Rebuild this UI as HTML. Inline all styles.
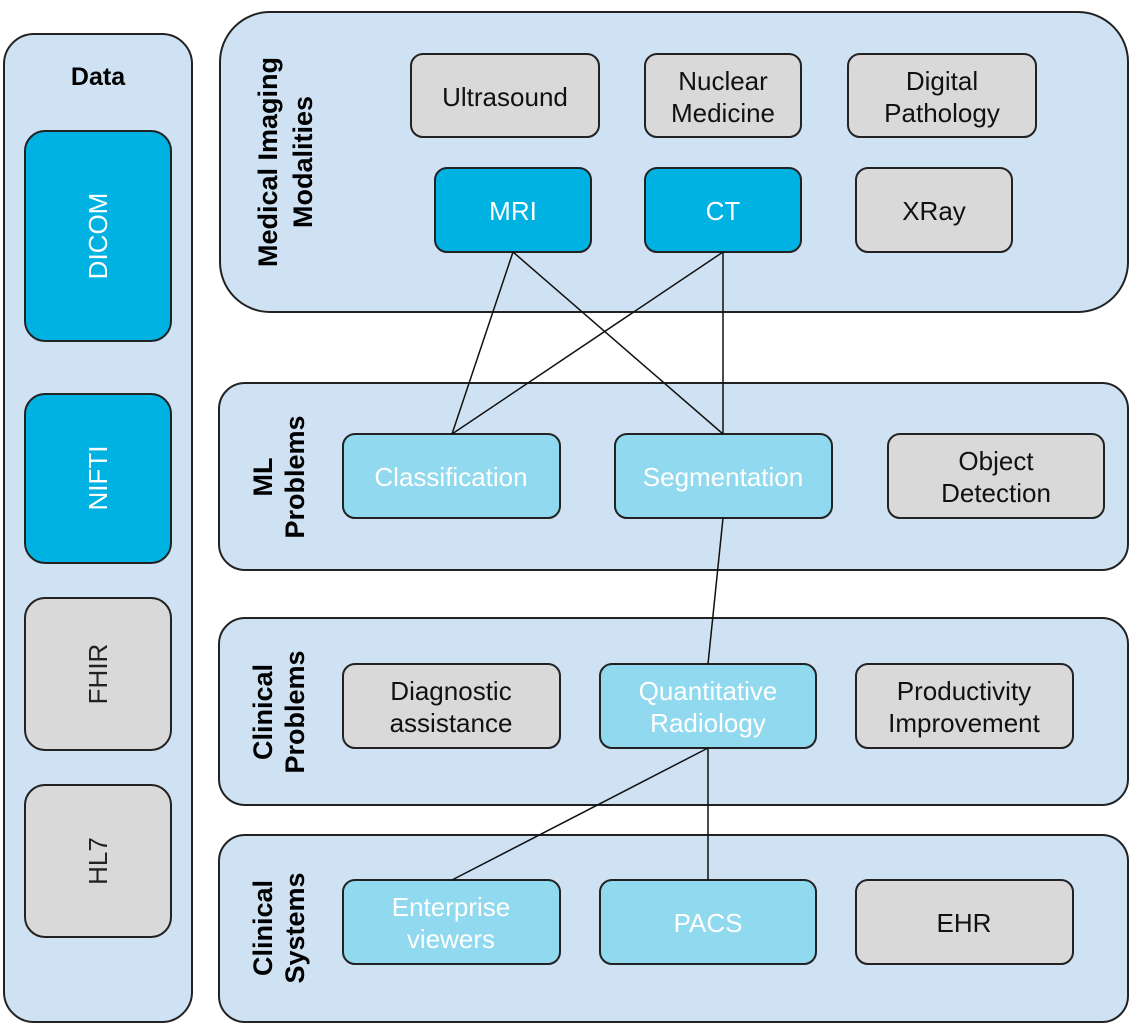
<!DOCTYPE html>
<html><head><meta charset="utf-8"><style>
html,body{margin:0;padding:0;background:#fff;}
svg{display:block;font-family:"Liberation Sans",Arial,sans-serif;}
</style></head><body>
<svg width="1133" height="1029" viewBox="0 0 1133 1029" xmlns="http://www.w3.org/2000/svg">
<g stroke="#222" stroke-width="2">
<rect x="4" y="34" width="188" height="988" rx="30" fill="#cfe2f3"/>
<rect x="220" y="12" width="908" height="300" rx="50" fill="#cfe2f3"/>
<rect x="219" y="383" width="909" height="187" rx="26" fill="#cfe2f3"/>
<rect x="219" y="618" width="909" height="187" rx="26" fill="#cfe2f3"/>
<rect x="219" y="835" width="909" height="187" rx="26" fill="#cfe2f3"/>

<rect x="25" y="131" width="146" height="210" rx="20" fill="#00b2e2"/>
<rect x="25" y="394" width="146" height="169" rx="20" fill="#00b2e2"/>
<rect x="25" y="598" width="146" height="152" rx="20" fill="#d9d9d9"/>
<rect x="25" y="785" width="146" height="152" rx="20" fill="#d9d9d9"/>

<rect x="411" y="54" width="188" height="83" rx="12" fill="#d9d9d9"/>
<rect x="645" y="54" width="156" height="83" rx="12" fill="#d9d9d9"/>
<rect x="848" y="54" width="188" height="83" rx="12" fill="#d9d9d9"/>
<rect x="435" y="168" width="156" height="84" rx="12" fill="#00b2e2"/>
<rect x="645" y="168" width="156" height="84" rx="12" fill="#00b2e2"/>
<rect x="856" y="168" width="156" height="84" rx="12" fill="#d9d9d9"/>

<rect x="343" y="434" width="217" height="84" rx="12" fill="#90d9ee"/>
<rect x="615" y="434" width="217" height="84" rx="12" fill="#90d9ee"/>
<rect x="888" y="434" width="216" height="84" rx="12" fill="#d9d9d9"/>

<rect x="343" y="664" width="217" height="84" rx="12" fill="#d9d9d9"/>
<rect x="600" y="664" width="216" height="84" rx="12" fill="#90d9ee"/>
<rect x="856" y="664" width="217" height="84" rx="12" fill="#d9d9d9"/>

<rect x="343" y="880" width="217" height="84" rx="12" fill="#90d9ee"/>
<rect x="600" y="880" width="216" height="84" rx="12" fill="#90d9ee"/>
<rect x="856" y="880" width="217" height="84" rx="12" fill="#d9d9d9"/>
</g>
<g stroke="#111" stroke-width="1.5" fill="none">
<line x1="513" y1="252" x2="452" y2="434"/>
<line x1="513" y1="252" x2="723" y2="434"/>
<line x1="723" y1="252" x2="452" y2="434"/>
<line x1="723" y1="252" x2="723" y2="434"/>
<line x1="723" y1="518" x2="708" y2="664"/>
<line x1="708" y1="748" x2="452" y2="880"/>
<line x1="708" y1="748" x2="708" y2="880"/>
</g>
<g font-size="26" text-anchor="middle">
<text x="98" y="85" font-weight="bold" font-size="25">Data</text>
<text transform="translate(107,236) rotate(-90)" fill="#fff">DICOM</text>
<text transform="translate(107,478) rotate(-90)" fill="#fff">NIFTI</text>
<text transform="translate(107,674) rotate(-90)" fill="#222">FHIR</text>
<text transform="translate(107,861) rotate(-90)" fill="#222">HL7</text>

<g font-weight="bold" font-size="27" fill="#000">
<text transform="translate(277,162) rotate(-90)"><tspan x="0" y="0">Medical Imaging</tspan><tspan x="0" y="35">Modalities</tspan></text>
<text transform="translate(272,477) rotate(-90)"><tspan x="0" y="0">ML</tspan><tspan x="0" y="32">Problems</tspan></text>
<text transform="translate(272,712) rotate(-90)"><tspan x="0" y="0">Clinical</tspan><tspan x="0" y="32">Problems</tspan></text>
<text transform="translate(272,928) rotate(-90)"><tspan x="0" y="0">Clinical</tspan><tspan x="0" y="32">Systems</tspan></text>
</g>

<g fill="#111">
<text x="505" y="106">Ultrasound</text>
<text x="723" y="90">Nuclear</text><text x="723" y="122">Medicine</text>
<text x="942" y="90">Digital</text><text x="942" y="122">Pathology</text>
<text x="934" y="220">XRay</text>
<text x="996" y="470">Object</text><text x="996" y="502">Detection</text>
<text x="451" y="700">Diagnostic</text><text x="451" y="732">assistance</text>
<text x="964" y="700">Productivity</text><text x="964" y="732">Improvement</text>
<text x="964" y="932">EHR</text>
</g>
<g fill="#fff">
<text x="513" y="220">MRI</text>
<text x="723" y="220">CT</text>
<text x="451" y="486">Classification</text>
<text x="723" y="486">Segmentation</text>
<text x="708" y="700">Quantitative</text><text x="708" y="732">Radiology</text>
<text x="451" y="916">Enterprise</text><text x="451" y="948">viewers</text>
<text x="708" y="932">PACS</text>
</g>
</g>
</svg>
</body></html>
